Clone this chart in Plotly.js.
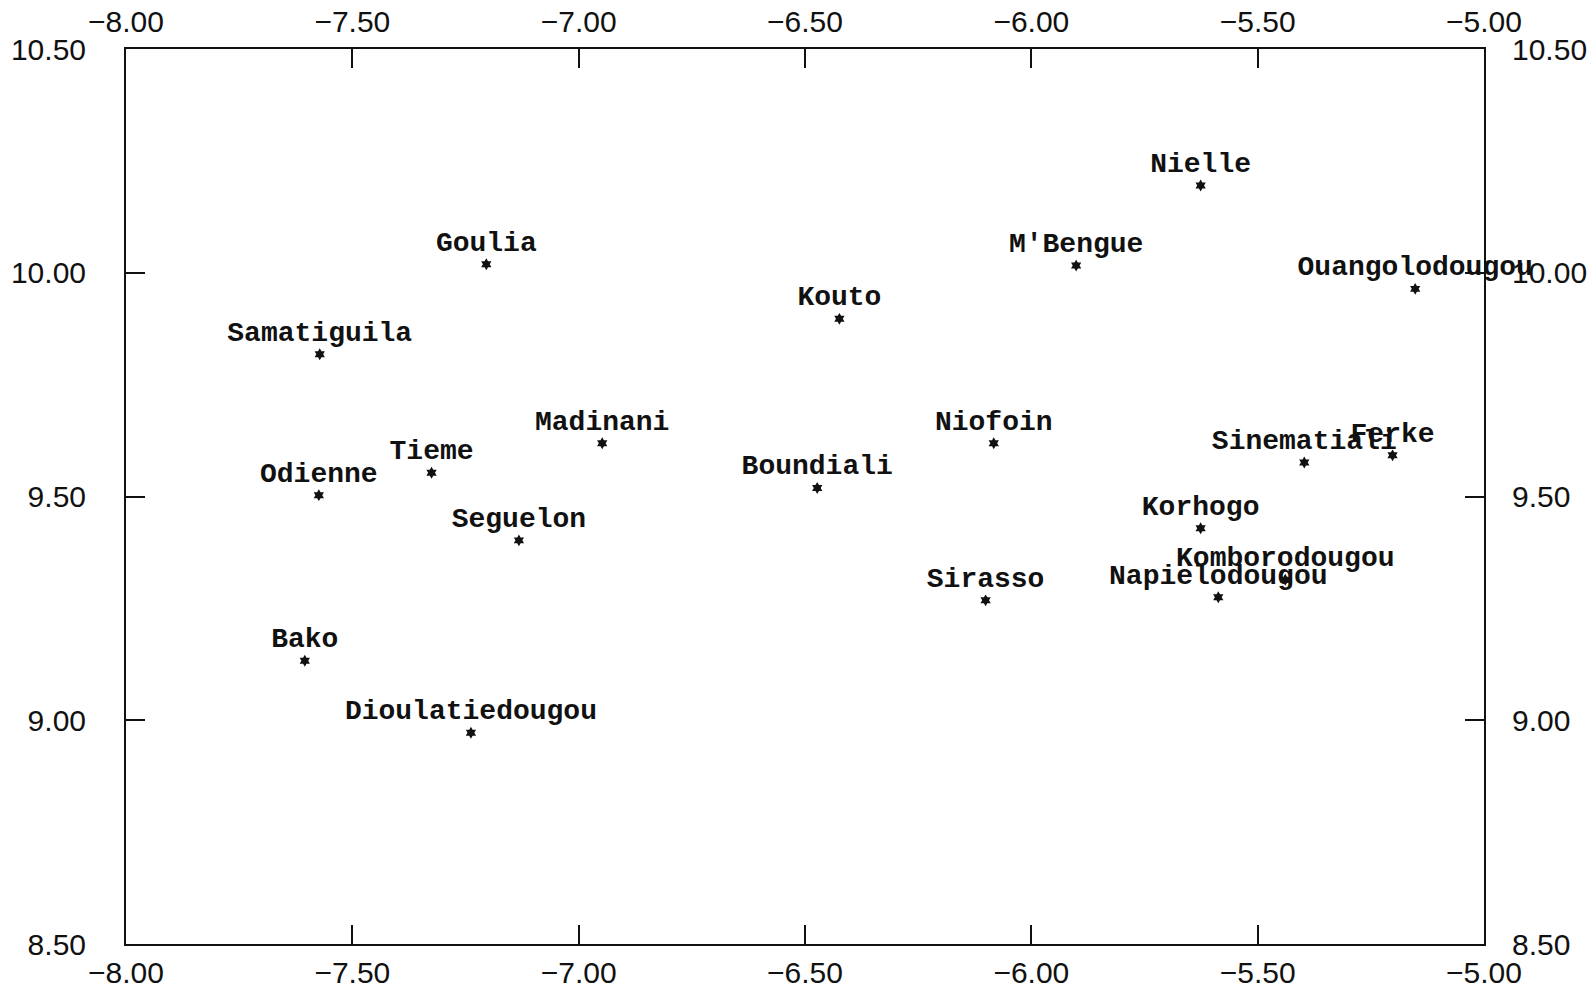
<!DOCTYPE html>
<html>
<head>
<meta charset="utf-8">
<script src="https://cdn.plot.ly/plotly-3.0.1.min.js"></script>
<style>html,body{margin:0;padding:0;background:#fff;}#chart{width:1590px;height:993px;}</style>
</head>
<body>
<div id="chart"></div>
<script>
const towns = ["Nielle","M'Bengue","Ouangolodougou","Goulia","Kouto","Samatiguila","Madinani","Niofoin","Sinematiali","Ferke","Tieme","Boundiali","Odienne","Korhogo","Seguelon","Komborodougou","Napielodougou","Sirasso","Bako","Dioulatiedougou"];
const lon = [-5.626,-5.901,-5.152,-7.204,-6.424,-7.572,-6.948,-6.083,-5.397,-5.202,-7.325,-6.473,-7.574,-5.626,-7.132,-5.439,-5.587,-6.101,-7.605,-7.238];
const lat = [10.195,10.016,9.964,10.019,9.897,9.818,9.619,9.619,9.576,9.592,9.553,9.519,9.503,9.429,9.402,9.314,9.275,9.268,9.133,8.972];
const xTicks = [-8.0,-7.5,-7.0,-6.5,-6.0,-5.5,-5.0];
const yTicks = [8.5,9.0,9.5,10.0,10.5];

const tickFont = {family:"Liberation Sans, Arial, sans-serif", size:30, color:"#111"};
const axBase = {
  showgrid:false, zeroline:false, showline:true, linecolor:"#111", linewidth:2,
  ticks:"inside", ticklen:19, tickwidth:2, tickcolor:"#111",
  tickformat:".2f", tickfont:tickFont
};

const traces = [
  {
    x: lon, y: lat, text: towns, type:"scatter", mode:"markers+text",
    textposition:"top center", cliponaxis:false,
    textfont:{family:"Liberation Mono, Courier New, monospace", size:28, color:"#111", weight:"bold"},
    marker:{symbol:"hexagram", size:9, color:"#111", line:{width:0}},
    hoverinfo:"skip", showlegend:false
  },
  {
    x: lon, y: lat, xaxis:"x2", yaxis:"y2", type:"scatter", mode:"markers",
    marker:{opacity:0, size:1}, hoverinfo:"skip", showlegend:false
  }
];

const layout = {
  width:1590, height:993,
  margin:{l:126, r:106, t:49, b:49},
  paper_bgcolor:"#fff", plot_bgcolor:"#fff",
  showlegend:false,
  xaxis: Object.assign({}, axBase, {range:[-8,-5], tickvals:xTicks, side:"bottom", ticklabelstandoff:1}),
  yaxis: Object.assign({}, axBase, {range:[8.5,10.5], tickvals:yTicks, side:"left", ticklabelstandoff:32}),
  xaxis2: Object.assign({}, axBase, {range:[-8,-5], tickvals:xTicks, side:"top", overlaying:"x", matches:"x", ticklabelstandoff:3}),
  yaxis2: Object.assign({}, axBase, {range:[8.5,10.5], tickvals:yTicks, side:"right", overlaying:"y", matches:"y", ticklabelstandoff:20})
};

Plotly.newPlot("chart", traces, layout, {staticPlot:true, displayModeBar:false});
</script>
</body>
</html>
